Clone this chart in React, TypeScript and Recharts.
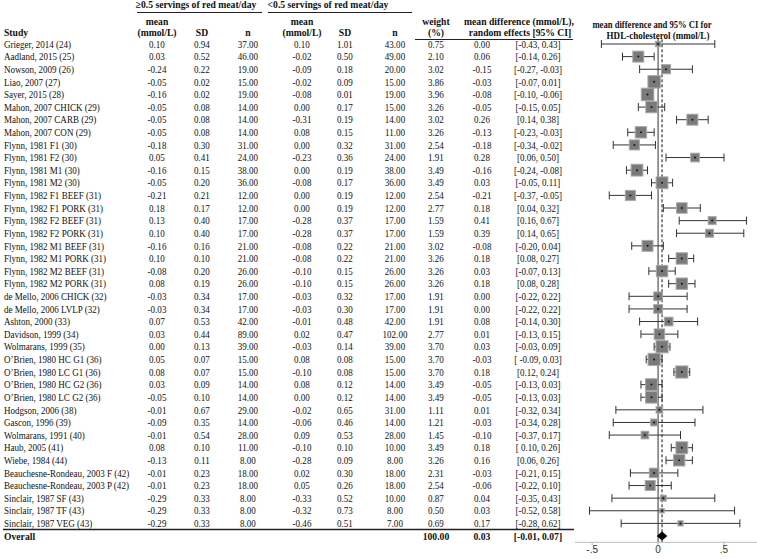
import type { ReactNode } from 'react'
import { ScatterChart, Scatter, XAxis, YAxis, ErrorBar, ReferenceLine } from 'recharts'

// table columns, one entry per study row
const studies = [
  'Grieger, 2014 (24)', 'Aadland, 2015 (25)', 'Nowson, 2009 (26)', 'Liao, 2007 (27)', 'Sayer, 2015 (28)',
  'Mahon, 2007 CHICK (29)', 'Mahon, 2007 CARB (29)', 'Mahon, 2007 CON (29)',
  'Flynn, 1981 F1 (30)', 'Flynn, 1981 F2 (30)', 'Flynn, 1981 M1 (30)', 'Flynn, 1981 M2 (30)',
  'Flynn, 1982 F1 BEEF (31)', 'Flynn, 1982 F1 PORK (31)', 'Flynn, 1982 F2 BEEF (31)', 'Flynn, 1982 F2 PORK (31)',
  'Flynn, 1982 M1 BEEF (31)', 'Flynn, 1982 M1 PORK (31)', 'Flynn, 1982 M2 BEEF (31)', 'Flynn, 1982 M2 PORK (31)',
  'de Mello, 2006 CHICK (32)', 'de Mello, 2006 LVLP (32)', 'Ashton, 2000 (33)', 'Davidson, 1999 (34)',
  'Wolmarans, 1999 (35)', 'O\u2019Brien, 1980 HC G1 (36)', 'O\u2019Brien, 1980 LC G1 (36)',
  'O\u2019Brien, 1980 HC G2 (36)', 'O\u2019Brien, 1980 LC G2 (36)', 'Hodgson, 2006 (38)', 'Gascon, 1996 (39)',
  'Wolmarans, 1991 (40)', 'Haub, 2005 (41)', 'Wiebe, 1984 (44)', 'Beauchesne-Rondeau, 2003 F (42)',
  'Beauchesne-Rondeau, 2003 P (42)', 'Sinclair, 1987 SF (43)', 'Sinclair, 1987 TF (43)', 'Sinclair, 1987 VEG (43)',
]
const meanHigh = ['0.10', '0.03', '-0.24', '-0.05', '-0.16', '-0.05', '-0.05', '-0.05', '-0.18', '0.05', '-0.16', '-0.05', '-0.21', '0.18', '0.13', '0.10', '-0.16', '0.10', '-0.08', '0.08', '-0.03', '-0.03', '0.07', '0.03', '0.00', '0.05', '0.08', '0.03', '-0.05', '-0.01', '-0.09', '-0.01', '0.08', '-0.13', '-0.01', '-0.01', '-0.29', '-0.29', '-0.29']
const sdHigh = ['0.94', '0.52', '0.22', '0.02', '0.02', '0.08', '0.08', '0.08', '0.30', '0.41', '0.15', '0.20', '0.21', '0.17', '0.40', '0.40', '0.16', '0.10', '0.20', '0.19', '0.34', '0.34', '0.53', '0.44', '0.13', '0.07', '0.07', '0.09', '0.10', '0.67', '0.35', '0.54', '0.10', '0.11', '0.23', '0.23', '0.33', '0.33', '0.33']
const nHigh = ['37.00', '46.00', '19.00', '15.00', '19.00', '14.00', '14.00', '14.00', '31.00', '24.00', '38.00', '36.00', '12.00', '12.00', '17.00', '17.00', '21.00', '21.00', '26.00', '26.00', '17.00', '17.00', '42.00', '89.00', '39.00', '15.00', '15.00', '14.00', '14.00', '29.00', '14.00', '28.00', '11.00', '8.00', '18.00', '18.00', '8.00', '8.00', '8.00']
const meanLow = ['0.10', '-0.02', '-0.09', '-0.02', '-0.08', '0.00', '-0.31', '0.08', '0.00', '-0.23', '0.00', '-0.08', '0.00', '0.00', '-0.28', '-0.28', '-0.08', '-0.08', '-0.10', '-0.10', '-0.03', '-0.03', '-0.01', '0.02', '-0.03', '0.08', '-0.10', '0.08', '0.00', '-0.02', '-0.06', '0.09', '-0.10', '-0.28', '0.02', '0.05', '-0.33', '-0.32', '-0.46']
const sdLow = ['1.01', '0.50', '0.18', '0.09', '0.01', '0.17', '0.19', '0.15', '0.32', '0.36', '0.19', '0.17', '0.19', '0.19', '0.37', '0.37', '0.22', '0.22', '0.15', '0.15', '0.32', '0.30', '0.48', '0.47', '0.14', '0.08', '0.08', '0.12', '0.12', '0.65', '0.46', '0.53', '0.10', '0.09', '0.30', '0.26', '0.52', '0.73', '0.51']
const nLow = ['43.00', '49.00', '20.00', '15.00', '19.00', '15.00', '14.00', '11.00', '31.00', '24.00', '38.00', '36.00', '12.00', '12.00', '17.00', '17.00', '21.00', '21.00', '26.00', '26.00', '17.00', '17.00', '42.00', '102.00', '39.00', '15.00', '15.00', '14.00', '14.00', '31.00', '14.00', '28.00', '10.00', '8.00', '18.00', '18.00', '10.00', '8.00', '7.00']
const weightText = ['0.75', '2.10', '3.02', '3.86', '3.96', '3.26', '3.02', '3.26', '2.54', '1.91', '3.49', '3.49', '2.54', '2.77', '1.59', '1.59', '3.02', '3.26', '3.26', '3.26', '1.91', '1.91', '1.91', '2.77', '3.70', '3.70', '3.70', '3.49', '3.49', '1.11', '1.21', '1.45', '3.49', '3.26', '2.31', '2.54', '0.87', '0.50', '0.69']
const mdText = ['0.00', '0.06', '-0.15', '-0.03', '-0.08', '-0.05', '0.26', '-0.13', '-0.18', '0.28', '-0.16', '0.03', '-0.21', '0.18', '0.41', '0.39', '-0.08', '0.18', '0.03', '0.18', '0.00', '0.00', '0.08', '0.01', '0.03', '-0.03', '0.18', '-0.05', '-0.05', '0.01', '-0.03', '-0.10', '0.18', '0.16', '-0.03', '-0.06', '0.04', '0.03', '0.17']
const ciText = ['[-0.43, 0.43]', '[-0.14, 0.26]', '[-0.27, -0.03]', '[-0.07, 0.01]', '[-0.10, -0.06]', '[-0.15, 0.05]', '[0.14, 0.38]', '[-0.23, -0.03]', '[-0.34, -0.02]', '[0.06, 0.50]', '[-0.24, -0.08]', '[-0.05, 0.11]', '[-0.37, -0.05]', '[0.04, 0.32]', '[0.16, 0.67]', '[0.14, 0.65]', '[-0.20, 0.04]', '[0.08, 0.27]', '[-0.07, 0.13]', '[0.08, 0.28]', '[-0.22, 0.22]', '[-0.22, 0.22]', '[-0.14, 0.30]', '[-0.13, 0.15]', '[-0.03, 0.09]', '[ -0.09, 0.03]', '[0.12, 0.24]', '[-0.13, 0.03]', '[-0.13, 0.03]', '[-0.32, 0.34]', '[-0.34, 0.28]', '[-0.37, 0.17]', '[ 0.10, 0.26]', '[0.06, 0.26]', '[-0.21, 0.15]', '[-0.22, 0.10]', '[-0.35, 0.43]', '[-0.52, 0.58]', '[-0.28, 0.62]']

// values as drawn in the plot panel (rows 2 and 3 appear swapped there)
const plotMd = [0.0, -0.15, 0.06, -0.03, -0.08, -0.05, 0.26, -0.13, -0.18, 0.28, -0.16, 0.03, -0.21, 0.18, 0.41, 0.39, -0.08, 0.18, 0.03, 0.18, 0.0, 0.0, 0.08, 0.01, 0.03, -0.03, 0.18, -0.05, -0.05, 0.01, -0.03, -0.1, 0.18, 0.16, -0.03, -0.06, 0.04, 0.03, 0.17]
const plotLo = [-0.43, -0.27, -0.14, -0.07, -0.1, -0.15, 0.14, -0.23, -0.34, 0.06, -0.24, -0.05, -0.37, 0.04, 0.16, 0.14, -0.2, 0.08, -0.07, 0.08, -0.22, -0.22, -0.14, -0.13, -0.03, -0.09, 0.12, -0.13, -0.13, -0.32, -0.34, -0.37, 0.1, 0.06, -0.21, -0.22, -0.35, -0.52, -0.28]
const plotHi = [0.43, -0.03, 0.26, 0.01, -0.06, 0.05, 0.38, -0.03, -0.02, 0.5, -0.08, 0.11, -0.05, 0.32, 0.67, 0.65, 0.04, 0.27, 0.13, 0.28, 0.22, 0.22, 0.3, 0.15, 0.09, 0.03, 0.24, 0.03, 0.03, 0.34, 0.28, 0.17, 0.26, 0.26, 0.15, 0.1, 0.43, 0.58, 0.62]
const plotWeight = [0.75, 3.02, 2.1, 3.86, 3.96, 3.26, 3.02, 3.26, 2.54, 1.91, 3.49, 3.49, 2.54, 2.77, 1.59, 1.59, 3.02, 3.26, 3.26, 3.26, 1.91, 1.91, 1.91, 2.77, 3.7, 3.7, 3.7, 3.49, 3.49, 1.11, 1.21, 1.45, 3.49, 3.26, 2.31, 2.54, 0.87, 0.5, 0.69]

const overall = { md: 0.03, lo: -0.01, hi: 0.07, weight: '100.00', mdText: '0.03', ciText: '[-0.01, 0.07]' }
const xTicks = [-0.5, 0, 0.5]

const W = 757
const H = 559
const PLOT_LEFT = 575
const TOP = 37.7
const BOTTOM = 542.3
const X_DOMAIN: [number, number] = [-0.63, 0.75]
const ROWS = studies.length + 1
const rowH = (BOTTOM - TOP) / ROWS
const pxPerUnit = (W - PLOT_LEFT) / (X_DOMAIN[1] - X_DOMAIN[0])
const rowY = (r: number) => TOP + (r - 0.5) * rowH

const studyData = plotMd.map((md, i) => ({
  row: i + 1,
  md,
  w: plotWeight[i],
  err: [md - plotLo[i], plotHi[i] - md],
}))
const overallData = [{ row: ROWS, md: overall.md, half: (overall.hi - overall.lo) / 2 }]

const serif = '"Liberation Serif", "Times New Roman", serif'

// eslint-disable-next-line @typescript-eslint/no-explicit-any
function SquareShape(props: any) {
  const { cx, cy, payload } = props
  const s = 6.3 * Math.sqrt(payload.w)
  return <rect x={cx - s / 2} y={cy - s / 2} width={s} height={s} fill="#7a7a7a" stroke="#a8a8a8" strokeWidth={1} />
}

// eslint-disable-next-line @typescript-eslint/no-explicit-any
function DotShape(props: any) {
  return <circle cx={props.cx} cy={props.cy} r={1} fill="#111" />
}

// eslint-disable-next-line @typescript-eslint/no-explicit-any
function DiamondShape(props: any) {
  const { cx, cy, payload } = props
  const hw = payload.half * pxPerUnit
  const hh = 4.5
  return <polygon points={`${cx - hw},${cy} ${cx},${cy - hh} ${cx + hw},${cy} ${cx},${cy + hh}`} fill="#000" />
}

// horizontally squeezed text (the source typesetting is narrow)
function T({ x, y, sx = 0.86, anchor = 'middle', dy, children }: { x: number; y: number; sx?: number; anchor?: string; dy?: string; children: ReactNode }) {
  return (
    <text x={x / sx} y={y} dy={dy} transform={`scale(${sx},1)`} textAnchor={anchor}>
      {children}
    </text>
  )
}

const cols = [
  { x: 157, vals: meanHigh },
  { x: 202, vals: sdHigh },
  { x: 248, vals: nHigh },
  { x: 302, vals: meanLow },
  { x: 345, vals: sdLow },
  { x: 395, vals: nLow },
  { x: 436, vals: weightText },
  { x: 482, vals: mdText },
  { x: 538, vals: ciText },
]

function Table() {
  const fs = 10.5
  const hs = 0.92
  return (
    <svg width={W} height={H} style={{ position: 'absolute', left: 0, top: 0, pointerEvents: 'none' }} fontFamily={serif}>
      {/* headers */}
      <g fontWeight="bold" fontSize={fs} fill="#111">
        <T x={196} y={8} sx={hs}>≥0.5 servings of red meat/day</T>
        <T x={328} y={8} sx={hs}>{'<0.5 servings of red meat/day'}</T>
        <T x={157} y={25} sx={hs}>mean</T>
        <T x={157} y={36} sx={hs}>(mmol/L)</T>
        <T x={302} y={25} sx={hs}>mean</T>
        <T x={302} y={36} sx={hs}>(mmol/L)</T>
        <T x={202} y={36} sx={hs}>SD</T>
        <T x={345} y={36} sx={hs}>SD</T>
        <T x={248} y={36} sx={hs}>n</T>
        <T x={395} y={36} sx={hs}>n</T>
        <T x={436} y={25} sx={hs}>weight</T>
        <T x={436} y={36} sx={hs}>(%)</T>
        <T x={519} y={25} sx={hs}>mean difference (mmol/L),</T>
        <T x={520} y={36} sx={hs}>random effects [95% CI]</T>
        <T x={652} y={28} sx={0.82}>mean difference and 95% CI  for</T>
        <T x={658} y={39} sx={0.86}>HDL-cholesterol (mmol/L)</T>
        <T x={4} y={36} sx={hs} anchor="start">Study</T>
      </g>
      <line x1={137} x2={262} y1={12.5} y2={12.5} stroke="#222" />
      <line x1={268} x2={412} y1={12.5} y2={12.5} stroke="#222" />
      <line x1={415} x2={573} y1={39.5} y2={39.5} stroke="#222" />
      <line x1={3} x2={574} y1={529.5} y2={529.5} stroke="#222" strokeWidth={1.5} />

      <g fontSize={fs} fill="#111">
        {studies.map((s, i) => (
          <T key={s} x={4} y={rowY(i + 1)} dy="0.35em" anchor="start">{s}</T>
        ))}
        {cols.map((c) =>
          c.vals.map((v, i) => (
            <T key={`${c.x}-${i}`} x={c.x} y={rowY(i + 1)} dy="0.35em">{v}</T>
          )),
        )}
      </g>
      <g fontSize={fs} fill="#111" fontWeight="bold">
        <T x={4} y={rowY(ROWS)} dy="0.35em" sx={hs} anchor="start">Overall</T>
        <T x={436} y={rowY(ROWS)} dy="0.35em" sx={hs}>{overall.weight}</T>
        <T x={482} y={rowY(ROWS)} dy="0.35em" sx={hs}>{overall.mdText}</T>
        <T x={538} y={rowY(ROWS)} dy="0.35em" sx={hs}>{overall.ciText}</T>
      </g>
    </svg>
  )
}

export default function App() {
  return (
    <div style={{ position: 'absolute', left: 0, top: 0, width: W, height: H, background: '#fff' }}>
      <div style={{ position: 'absolute', left: 0, top: 0 }}>
        <ScatterChart width={W} height={H} margin={{ top: TOP, right: 0, bottom: H - BOTTOM - 16, left: PLOT_LEFT }}>
          <XAxis
            type="number"
            dataKey="md"
            domain={X_DOMAIN}
            ticks={xTicks}
            allowDataOverflow
            height={16}
            tickFormatter={(v: number) => (v === 0 ? '0' : v < 0 ? '-.5' : '.5')}
            tick={{ fill: '#333', fontSize: 10, fontFamily: '"Liberation Sans", Arial, sans-serif' }}
            tickSize={3}
            tickMargin={1}
            stroke="#bbb"
          />
          <YAxis type="number" dataKey="row" domain={[0.5, ROWS + 0.5]} reversed hide />
          <ReferenceLine x={0} stroke="#555" strokeWidth={1.2} />
          <ReferenceLine x={overall.md} stroke="#111" strokeDasharray="3 2" />
          <Scatter data={studyData} shape={<SquareShape />} isAnimationActive={false} />
          <Scatter data={studyData} shape={<DotShape />} isAnimationActive={false}>
            <ErrorBar dataKey="err" direction="x" width={4} stroke="#333" strokeWidth={1} />
          </Scatter>
          <Scatter data={overallData} shape={<DiamondShape />} isAnimationActive={false} />
        </ScatterChart>
      </div>
      <Table />
    </div>
  )
}
